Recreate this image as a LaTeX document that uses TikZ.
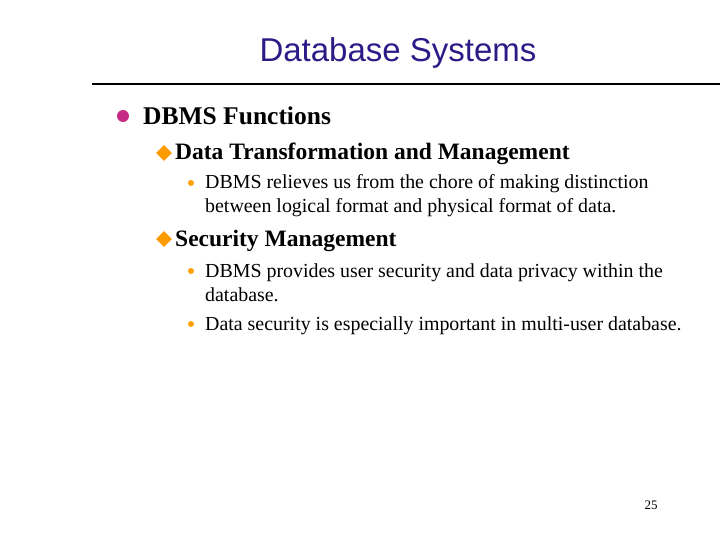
\documentclass[tikz,border=0pt]{standalone}
\usetikzlibrary{shapes.geometric}
\usepackage{fontspec}
\setmainfont{Liberation Serif}
\newfontfamily\titlefont{Liberation Sans}
\begin{document}
\begin{tikzpicture}[x=1pt,y=-1pt,
  txt/.style={anchor=base west,inner sep=0pt},
  lone/.style={txt,font=\fontsize{25.5}{28}\selectfont\bfseries},
  ltwo/.style={txt,font=\fontsize{23.5}{26}\selectfont\bfseries},
  lthree/.style={txt,font=\fontsize{19.9}{24}\selectfont},
  bone/.style={circle,fill=magenta!80!black,minimum size=12pt,inner sep=0pt},
  btwo/.style={diamond,fill=orange!80!yellow,minimum size=16pt,inner sep=0pt},
  bthree/.style={circle,fill=orange!75!yellow,minimum size=6pt,inner sep=0pt}]
\useasboundingbox (0,0) rectangle (720,540);
\definecolor{tcol}{RGB}{46,26,135}
\node[anchor=base,inner sep=0pt,font=\titlefont\fontsize{33}{36}\selectfont,text=tcol] (title) at (398,62) {Database Systems};
\coordinate (la) at (92,84); \coordinate (lb) at (720,84);
\draw[line width=2pt] (la) -- (lb);
\node[bone] (b1) at (123,116) {};
\node[lone] (t1) at (143,125) {DBMS Functions};
\node[btwo] (b2) at (164,153) {};
\node[ltwo] (t2) at (175,160) {Data Transformation and Management};
\node[bthree] (b3) at (191,183) {};
\node[lthree] (t3a) at (205,189) {DBMS relieves us from the chore of making distinction};
\node[lthree] (t3b) at (205,213) {between logical format and physical format of data.};
\node[btwo] (b4) at (164,239) {};
\node[ltwo] (t4) at (175,246) {Security Management};
\node[bthree] (b5) at (191,271) {};
\node[lthree] (t5a) at (205,277) {DBMS provides user security and data privacy within the};
\node[lthree] (t5b) at (205,301) {database.};
\node[bthree] (b6) at (191,324) {};
\node[lthree] (t6) at (205,330) {Data security is especially important in multi-user database.};
\node[txt,anchor=base,font=\fontsize{13}{15}\selectfont] (pg) at (651,509) {25};
\end{tikzpicture}
\end{document}
